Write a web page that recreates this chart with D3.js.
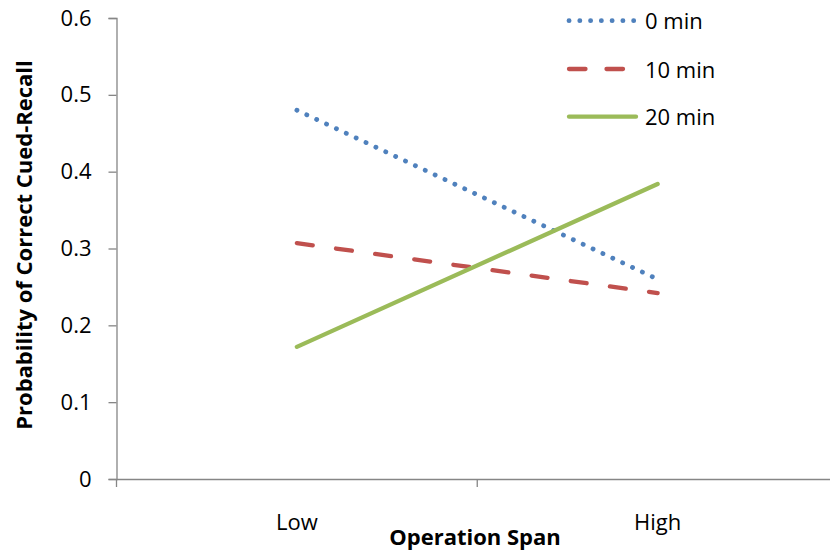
<!DOCTYPE html>
<html><head><meta charset="utf-8">
<script src="https://cdn.jsdelivr.net/npm/d3@7"></script>
<style>body{margin:0;background:#fff}svg{display:block}</style>
</head><body>
<script>
const categories = ["Low", "High"];
const seriesNames = ["0 min", "10 min", "20 min"];
const values0 = [0.48, 0.26];
const values10 = [0.307, 0.242];
const values20 = [0.172, 0.384];
const yTicks = [0, 0.1, 0.2, 0.3, 0.4, 0.5, 0.6];

const series = [
  {name: seriesNames[0], values: values0, color: "#4F81BD", kind: "dot"},
  {name: seriesNames[1], values: values10, color: "#C0504D", kind: "dash"},
  {name: seriesNames[2], values: values20, color: "#9BBB59", kind: "solid"}
];
const dashFor = {dot: "0.1 10.8", dash: "16 23.5", solid: null};
const legendDash = {dot: "0.1 10.67", dash: "16.5 21", solid: null};

const W = 830, H = 552;
const svg = d3.select("body").append("svg").attr("width", W).attr("height", H);
const font = "'Open Sans', sans-serif";
const mLeft = 116.5, mRight = 838, mTop = 18, mBottom = 479;

const x = d3.scaleBand().domain(categories).range([mLeft, mRight]);
const y = d3.scaleLinear().domain([0, 0.6]).range([mBottom, mTop]);
const axisColor = "#868686";

// y axis
const ya = svg.append("g").attr("transform", `translate(${mLeft},0)`)
  .call(d3.axisLeft(y).tickValues(yTicks).tickSize(8).tickPadding(17).tickFormat(d => d === 0 ? "0" : d3.format(".1f")(d)));
ya.select(".domain").attr("stroke", axisColor).attr("stroke-width", 1.3);
ya.selectAll(".tick line").attr("stroke", axisColor).attr("stroke-width", 1.3);
ya.selectAll(".tick text").attr("font-family", font).attr("font-size", 22).attr("fill", "#000");

// x axis
const xa = svg.append("g").attr("transform", `translate(0,${mBottom})`)
  .call(d3.axisBottom(x).tickSize(0).tickPadding(35));
xa.select(".domain").attr("stroke", axisColor).attr("stroke-width", 1.3);
xa.selectAll(".tick text").attr("font-family", font).attr("font-size", 22).attr("fill", "#000");
// category boundary ticks
const bounds = [mLeft, mLeft + x.step(), mLeft + 2 * x.step()];
svg.append("g").selectAll("line").data(bounds).join("line")
  .attr("x1", d => d).attr("x2", d => d).attr("y1", mBottom).attr("y2", mBottom + 8)
  .attr("stroke", axisColor).attr("stroke-width", 1.3);

// lines
const line = d3.line().x((d, i) => x(categories[i]) + x.bandwidth() / 2).y(d => y(d));
svg.append("g").selectAll("path").data(series).join("path")
  .attr("d", d => line(d.values))
  .attr("fill", "none")
  .attr("stroke", d => d.color)
  .attr("stroke-width", d => d.kind === "dot" ? 4.8 : 4.3)
  .attr("stroke-linecap", "round")
  .attr("stroke-dasharray", d => dashFor[d.kind]);

// legend
const lg = svg.append("g");
const legendY = [20.7, 69, 116.7];
series.forEach((s, i) => {
  const yy = legendY[i];
  lg.append("line").attr("x1", 569).attr("x2", 636).attr("y1", yy).attr("y2", yy)
    .attr("stroke", s.color).attr("stroke-width", s.kind === "dot" ? 4.8 : 4.3)
    .attr("stroke-linecap", "round")
    .attr("stroke-dasharray", legendDash[s.kind]);
  lg.append("text").attr("x", 645).attr("y", yy + 8.5).attr("font-family", font)
    .attr("font-size", 22).text(s.name);
});

// axis titles
svg.append("text").attr("x", 475).attr("y", 545).attr("text-anchor", "middle")
  .attr("font-family", font).attr("font-weight", "bold").attr("font-size", 22).text("Operation Span");
svg.append("text").attr("transform", `translate(32,245) rotate(-90)`)
  .attr("text-anchor", "middle").attr("font-family", font).attr("font-weight", "bold")
  .attr("font-size", 22).text("Probability of Correct Cued-Recall");
</script>
</body></html>
